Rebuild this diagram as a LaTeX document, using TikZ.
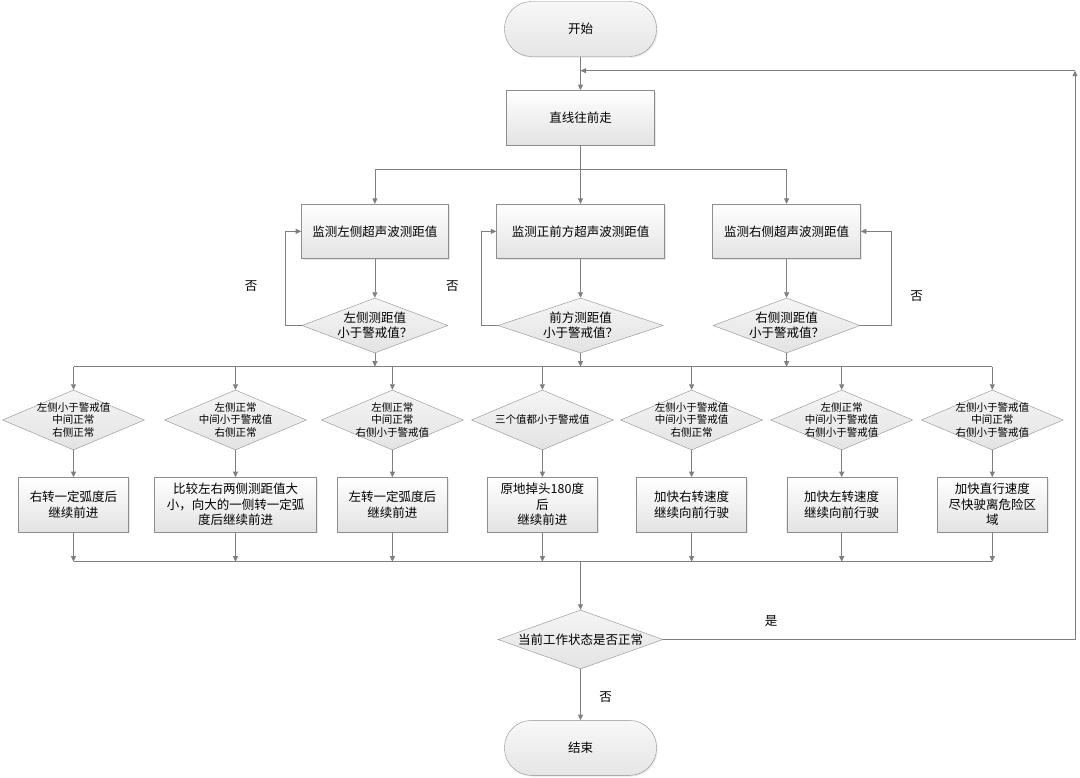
\documentclass[tikz,border=0pt]{standalone}
\usepackage{fontspec}
\setmainfont{Noto Sans CJK SC}
\usepackage{xcolor}
\usepackage{tikz}
\usetikzlibrary{shapes,arrows,positioning,calc,shadows,arrows.meta}
\definecolor{linegray}{HTML}{7F7F7F}
\definecolor{edgegray}{HTML}{8E8E8E}

\begin{document}
\begin{tikzpicture}[x=1pt, y=-1pt,
        every node/.style={font=\fontsize{12.5}{15.5}\selectfont},
        proc/.style={draw=edgegray, rectangle, minimum height=54.5pt, minimum width=110pt, align=center,
            top color=white, bottom color=black!11, drop shadow={shadow xshift=1.2pt, shadow yshift=-1.2pt, opacity=0.18}},
        term/.style={draw=edgegray, rectangle, rounded corners=27pt, minimum width=152pt, minimum height=55pt,
            top color=black!3, bottom color=black!10, drop shadow={shadow xshift=1.2pt, shadow yshift=-1.2pt, opacity=0.18}},
        check/.style={draw=edgegray, diamond, inner sep=0pt, minimum width=142pt, minimum height=60pt,
            top color=black!4, bottom color=black!11},
        ctext/.style={align=center, font=\fontsize{10.5}{12.2}\selectfont},
        qtext/.style={align=center, font=\fontsize{12.5}{15}\selectfont},
        note/.style={inner sep=0pt},
        conn/.style={draw=linegray, line width=0.8pt},
        >={Triangle[width=5pt,length=5.5pt]}
    ]
        \useasboundingbox (0,0) rectangle (1080,778);

        % main column
        \node [term] (start) at (580.5,29) {开始};
        \node [proc, minimum width=148pt, below=33.5pt of start] (walk) {直线往前走};
        \node [coordinate, below=24pt of walk] (fork) {};
        \node [coordinate] (loopin) at (580.5,70.7) {};
        \node [coordinate] (loopR) at (1075,70.7) {};

        % sensors
        \node [proc, minimum width=168pt, below=34.8pt of fork] (senM) {监测正前方超声波测距值};
        \node [proc, minimum width=147pt, left=47.7pt of senM] (senL) {监测左侧超声波测距值};
        \node [proc, minimum width=148pt, right=47.7pt of senM] (senR) {监测右侧超声波测距值};
        \node [check, minimum width=146pt, minimum height=55pt, below=39pt of senL,
            label={[qtext]center:左侧测距值\\小于警戒值？}] (chkL) {};
        \node [check, minimum width=165pt, minimum height=55pt, below=39pt of senM,
            label={[qtext]center:前方测距值\\小于警戒值？}] (chkM) {};
        \node [check, minimum width=147pt, minimum height=55pt, below=39pt of senR,
            label={[qtext]center:右侧测距值\\小于警戒值？}] (chkR) {};
        \node [note] (noL) at (251,286) {否};
        \node [note] (noM) at (452.3,286) {否};
        \node [note] (noR) at (916.7,296) {否};

        % cases
        \node [coordinate] (bus1w) at (73.5,366.7) {};
        \node [coordinate] (bus1e) at (992.3,366.7) {};
        \node [check, label={[ctext]center:左侧小于警戒值\\中间正常\\右侧正常}] (cond1) at (73.5,420) {};
        \node [check, label={[ctext]center:左侧正常\\中间小于警戒值\\右侧正常}] (cond2) at (235.5,420) {};
        \node [check, label={[ctext]center:左侧正常\\中间正常\\右侧小于警戒值}] (cond3) at (392.4,420) {};
        \node [check, label={[ctext]center:三个值都小于警戒值}] (cond4) at (542.4,420) {};
        \node [check, label={[ctext]center:左侧小于警戒值\\中间小于警戒值\\右侧正常}] (cond5) at (691.6,420) {};
        \node [check, label={[ctext]center:左侧正常\\中间小于警戒值\\右侧小于警戒值}] (cond6) at (841.7,420) {};
        \node [check, label={[ctext]center:左侧小于警戒值\\中间正常\\右侧小于警戒值}] (cond7) at (992.3,420) {};

        \node [proc, below=27pt of cond1] (act1) {右转一定弧度后\\继续前进};
        \node [proc, minimum width=162pt, below=27pt of cond2] (act2) {比较左右两侧测距值大\\小，向大的一侧转一定弧\\度后继续前进};
        \node [proc, below=27pt of cond3] (act3) {左转一定弧度后\\继续前进};
        \node [proc, below=27pt of cond4] (act4) {原地掉头180度\\后\\继续前进};
        \node [proc, below=27pt of cond5] (act5) {加快右转速度\\继续向前行驶};
        \node [proc, below=27pt of cond6] (act6) {加快左转速度\\继续向前行驶};
        \node [proc, below=27pt of cond7] (act7) {加快直行速度\\尽快驶离危险区\\域};

        % end
        \node [coordinate] (bus2w) at (73.5,561.7) {};
        \node [coordinate] (bus2e) at (992.3,561.7) {};
        \node [check, minimum width=165pt, minimum height=59pt,
            label={[qtext]center:当前工作状态是否正常}] (final) at (580.5,639.5) {};
        \node [term, below=51pt of final] (stop) {结束};
        \node [note] (yes) at (771,621) {是};
        \node [note] (noEnd) at (605.7,697) {否};

        \draw [conn, ->] (start) -- (walk);
        \draw [conn] (walk) -- (fork);
        \draw [conn, ->] (fork) -| (senL);
        \draw [conn, ->] (fork) -- (senM);
        \draw [conn, ->] (fork) -| (senR);
        \draw [conn, ->] (senL) -- (chkL);
        \draw [conn, ->] (senM) -- (chkM);
        \draw [conn, ->] (senR) -- (chkR);
        \draw [conn, ->] (chkL.west) -- ++(-16.7pt,0) |- (senL.west);
        \draw [conn, ->] (chkM.west) -- ++(-16.6pt,0) |- (senM.west);
        \draw [conn, ->] (chkR.east) -- ++(31pt,0) |- (senR.east);
        \draw [conn, ->] (chkL) -- (chkL |- bus1w);
        \draw [conn, ->] (chkM) -- (chkM |- bus1w);
        \draw [conn, ->] (chkR) -- (chkR |- bus1w);

        \draw [conn] (bus1w) -- (bus1e);
        \draw [conn, ->] (bus1w) -- (cond1);
        \draw [conn, ->] (cond2 |- bus1w) -- (cond2);
        \draw [conn, ->] (cond3 |- bus1w) -- (cond3);
        \draw [conn, ->] (cond4 |- bus1w) -- (cond4);
        \draw [conn, ->] (cond5 |- bus1w) -- (cond5);
        \draw [conn, ->] (cond6 |- bus1w) -- (cond6);
        \draw [conn, ->] (bus1e) -- (cond7);

        \draw [conn, ->] (cond1) -- (act1);
        \draw [conn, ->] (cond2) -- (act2);
        \draw [conn, ->] (cond3) -- (act3);
        \draw [conn, ->] (cond4) -- (act4);
        \draw [conn, ->] (cond5) -- (act5);
        \draw [conn, ->] (cond6) -- (act6);
        \draw [conn, ->] (cond7) -- (act7);

        \draw [conn, ->] (act1) -- (act1 |- bus2w);
        \draw [conn, ->] (act2) -- (act2 |- bus2w);
        \draw [conn, ->] (act3) -- (act3 |- bus2w);
        \draw [conn, ->] (act4) -- (act4 |- bus2w);
        \draw [conn, ->] (act5) -- (act5 |- bus2w);
        \draw [conn, ->] (act6) -- (act6 |- bus2w);
        \draw [conn, ->] (act7) -- (act7 |- bus2w);
        \draw [conn] (bus2w) -- (bus2e);

        \draw [conn, ->] (final |- bus2w) -- (final);
        \draw [conn, ->] (final) -- (stop);
        \draw [conn, ->] (final.east) -| (loopR);
        \draw [conn, ->] (loopR) -- (loopin);
    \end{tikzpicture}
\end{document}
